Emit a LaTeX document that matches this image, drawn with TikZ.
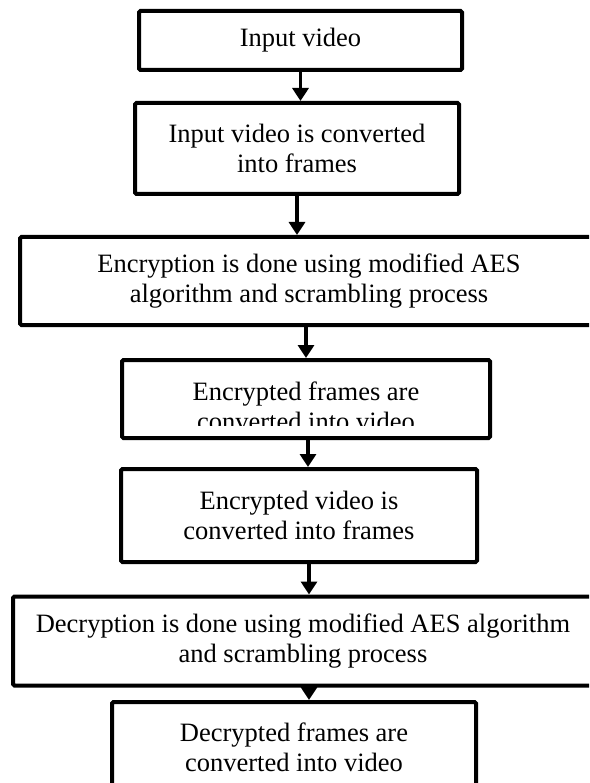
\documentclass[tikz,border=0pt]{standalone}
\usepackage{fontspec}
\setmainfont{Liberation Serif}
\usepackage{tikz}
\usetikzlibrary{arrows.meta}

\tikzset{
	label text/.style={align=center, inner sep=2pt, font=\fontsize{26.5}{30}\selectfont},
	stage/.style={label text, draw=black, line width=4pt, rounded corners=1.5pt, fill=white},
	flow/.style={line width=3.5pt, -{Triangle[width=16pt,length=13pt]}}
}

\begin{document}
\begin{tikzpicture}[x=1pt, y=-1pt]
				\clip (0,0) rectangle (589,783);
				\fill[white] (0,0) rectangle (589,783);
				\node[stage, minimum width=323pt, minimum height=59pt] (vid) at (300.5,40.5) {Input video};
				\node[stage, minimum width=324pt, minimum height=91pt] (frm) at (297,148.5) {Input video is converted\\into frames};
				\node[stage, minimum width=578pt, minimum height=88pt] (enc) at (309,281) {Encryption is done using modified AES\\algorithm and scrambling process};
				\node[stage, minimum width=368pt, minimum height=78pt] (encvid) at (306,399) {};
				\node[label text] (encvidtxt) at ([yshift=-7pt]encvid.center) {Encrypted frames are\\converted into video};
				\fill[white] (126,425.5) rectangle (486,435.5);
				\node[stage, minimum width=356pt, minimum height=93pt] (encfrm) at (299,515.5) {Encrypted video is\\converted into frames};
				\node[stage, minimum width=580pt, minimum height=89pt] (dec) at (303,641) {Decryption is done using modified AES algorithm\\and scrambling process};
				\node[stage, minimum width=364pt, minimum height=90pt] (decvid) at (294,747) {Decrypted frames are\\converted into video};
				% arrows between the stages
				\draw[flow] (vid.south) -- (vid.south |- frm.north);
				\draw[flow] (frm.south) -- (frm.south |- enc.north);
				\draw[flow] (encvid.north |- enc.south) -- (encvid.north);
				\draw[flow] ([xshift=2pt]encvid.south) -- ([xshift=2pt]encvid.south |- encfrm.north);
				\draw[flow] ([xshift=10pt]encfrm.south) -- ([xshift=10pt]encfrm.south |- dec.north);
				\draw[flow] ([xshift=6pt]dec.south) -- ([xshift=6pt]dec.south |- decvid.north);
			\end{tikzpicture}
\end{document}
